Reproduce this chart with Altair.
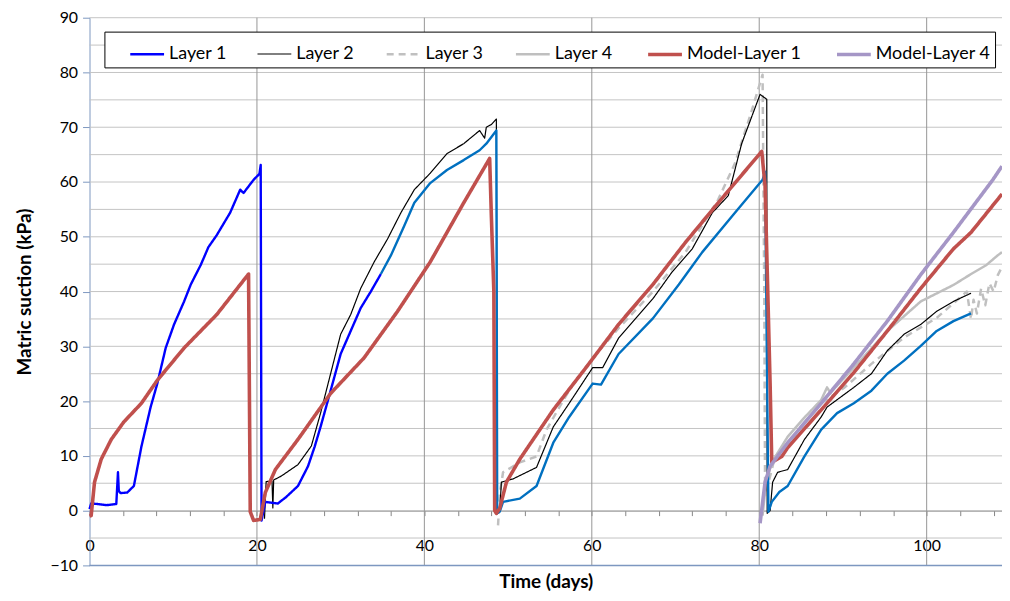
import altair as alt
import pandas as pd

# ---------------- data ----------------
L1_T = [0, 0.2, 1.0, 2.0, 3.2, 3.4, 3.5, 3.7, 4.5, 5.3, 6.2, 7.3, 8.1, 9.1, 10.1, 11.3, 12.1, 13.3,
        14.2, 15.2, 16.8, 18.0, 18.4, 19.6, 20.3, 20.45, 20.55, 21.0, 22.5, 23.5, 24.9, 26.1, 26.9,
        27.6, 28.8, 30.0, 31.2, 32.4, 33.6, 34.8]
L1_V = [0.3, 1.3, 1.2, 1.0, 1.2, 7.0, 3.6, 3.2, 3.3, 4.5, 11.7, 18.9, 23.2, 29.7, 34.0, 38.2, 41.3, 44.9,
        48.1, 50.3, 54.4, 58.6, 58.0, 60.4, 61.5, 63.1, -1.8, 1.6, 1.3, 2.5, 4.5, 8.1, 11.7,
        15.3, 21.9, 28.6, 32.8, 37.0, 40.0, 43.2]

# continuation of Layer 1 drawn in a lighter blue (not in legend)
L1B_T = [34.8, 36.0, 37.6, 38.8, 40.7, 42.7, 44.7, 46.6, 47.4, 48.6, 48.7, 49.0, 49.4, 51.4, 53.4, 55.4,
         57.3, 60.1, 61.1, 63.2, 67.3, 70.4, 73.2, 77.1, 80.4, 80.7, 80.9, 81.1, 81.5, 82.4, 83.4, 85.4,
         87.4, 89.3, 91.3, 93.4, 95.3, 97.3, 99.3, 101.2, 103.2, 105.3]
L1B_V = [43.2, 46.6, 52.0, 56.2, 59.8, 62.2, 64.0, 65.8, 67.0, 69.4, -0.5, -0.2, 1.6, 2.2, 4.5, 12.4,
         17.1, 23.2, 23.0, 28.6, 35.1, 41.3, 47.2, 54.4, 60.4, 61.9, 30.0, -0.2, 1.6, 3.4, 4.5, 9.9,
         14.8, 17.8, 19.6, 21.9, 25.0, 27.4, 30.1, 32.8, 34.6, 36.0]

L2_T = [20.9, 21.1, 21.8, 21.9, 22.0, 22.9, 24.9, 26.5, 27.6, 28.8, 30.0, 31.2, 32.4, 34.0, 35.6, 37.2,
        38.8, 40.7, 42.7, 44.7, 46.6, 47.2, 47.4, 48.0, 48.6, 48.7, 49.0, 49.2, 50.6, 53.4, 55.4, 57.3,
        60.1, 61.3, 63.2, 67.3, 69.6, 72.0, 74.4, 76.3, 77.9, 80.1, 80.9, 80.95, 81.3, 81.6, 82.2, 83.4,
        85.4, 87.4, 88.1, 91.3, 93.4, 95.3, 97.3, 99.3, 101.2, 103.2, 105.3]
L2_V = [-1.5, 5.3, 5.4, 0.5, 5.6, 6.3, 8.4, 11.8, 17.8, 25.0, 32.2, 35.8, 40.6, 45.4, 49.6, 54.4,
        58.6, 61.6, 65.2, 67.0, 69.4, 68.0, 70.0, 70.5, 71.5, -0.5, -0.2, 5.2, 5.8, 7.9, 15.3, 19.6,
        26.1, 26.1, 31.5, 38.7, 43.6, 47.8, 54.4, 57.5, 67.0, 76.0, 75.1, -0.5, 0.0, 5.2, 7.0, 7.5,
        13.0, 17.1, 18.9, 22.5, 25.0, 29.2, 32.2, 34.0, 36.4, 38.2, 39.7]

L3_T = [48.8, 49.0, 49.4, 51.4, 53.4, 54.6, 57.3, 60.1, 63.2, 67.3, 71.2, 75.1, 77.1, 79.1, 80.4, 80.6,
        80.7, 81.9, 83.4, 85.4, 87.4, 90.2, 93.4, 97.3, 101.2, 104.8, 105.3, 105.6, 106.0, 106.5, 107.0,
        107.5, 108.0, 108.5, 109.0]
L3_V = [-2.7, 3.0, 7.0, 8.8, 9.9, 14.8, 22.0, 27.9, 33.3, 40.0, 47.2, 56.8, 63.4, 73.0, 79.6, 40.0,
        2.7, 9.9, 11.7, 16.0, 19.6, 22.5, 26.8, 31.6, 35.2, 40.0, 35.0, 38.5, 36.0, 40.5, 37.5,
        41.5, 40.0, 43.0, 44.5]

L4_T = [80.4, 80.8, 81.5, 83.4, 85.4, 87.4, 88.1, 88.5, 91.3, 95.3, 99.3, 103.2, 105.2, 107.1, 108.4, 109.0]
L4_V = [-0.9, 5.0, 8.8, 13.5, 17.0, 20.2, 22.5, 21.5, 26.1, 32.8, 38.2, 41.2, 43.1, 44.8, 46.5, 47.2]

M1_T = [0, 0.2, 0.6, 1.4, 2.6, 4.1, 6.2, 8.1, 11.3, 15.2, 19.0, 19.2, 19.6, 20.4, 21.0, 22.2, 24.9, 28.8,
        32.8, 36.8, 40.7, 44.7, 47.8, 48.0, 48.3, 48.4, 48.6, 49.0, 49.8, 51.4, 55.4, 59.3, 63.2, 67.3,
        71.2, 75.1, 80.3, 80.7, 81.0, 81.3, 81.5, 82.7, 83.4, 87.4, 91.3, 95.3, 99.3, 103.2, 105.3, 109.0]
M1_V = [-1.0, -0.9, 5.2, 9.4, 13.0, 16.2, 19.6, 23.8, 29.7, 35.8, 43.2, -0.2, -1.8, -1.6, 3.3, 7.5, 13.0, 21.4,
        27.9, 36.4, 45.4, 56.2, 64.3, 53.9, 40.0, 0.0, -0.5, 0.4, 5.2, 9.4, 18.4, 26.1, 34.0, 41.3,
        49.0, 56.2, 65.6, 59.3, 41.2, 23.2, 8.8, 9.9, 11.5, 18.4, 25.2, 32.8, 40.6, 47.8, 50.8, 57.8]

M4_T = [80.1, 80.7, 81.3, 83.4, 87.4, 91.3, 95.3, 99.3, 103.2, 107.9, 109.0]
M4_V = [-2.3, 5.2, 8.1, 12.4, 19.6, 26.8, 34.6, 43.1, 50.8, 60.4, 62.9]

SERIES = ["Layer 1", "Layer 2", "Layer 3", "Layer 4", "Model-Layer 1", "Model-Layer 4"]
COLORS = ["#0000FF", "#000000", "#C0C0C0", "#BFBFBF", "#C0504D", "#A596C6"]
DASHES = [[1, 0], [1, 0], [7, 5], [1, 0], [1, 0], [1, 0]]
WIDTHS = [2.4, 1.2, 2.5, 2.5, 3.6, 3.6]
L1B_COLOR = "#0070C0"

X_TICKS = list(range(0, 109, 4))
Y_TICKS = list(range(-10, 91, 10))
H_GRID = list(range(-5, 91, 5))
V_GRID = [20, 40, 60, 80, 100]
BOTTOM = [-10]

FONT = "Lato"
PLOT_H = 551

# ---------------- build tables ----------------
def frame(name, ts, vs):
    return pd.DataFrame({"t": ts, "v": vs, "series": name, "i": range(len(ts))})

raw = {
    "Layer 1": (L1_T, L1_V), "Layer 2": (L2_T, L2_V), "Layer 3": (L3_T, L3_V),
    "Layer 4": (L4_T, L4_V), "Model-Layer 1": (M1_T, M1_V), "Model-Layer 4": (M4_T, M4_V),
}
frames = {k: frame(k, *v) for k, v in raw.items()}
l1b = frame("Layer 1b", L1B_T, L1B_V)

xscale = alt.Scale(domain=[0, 109], nice=False, zero=False)
yscale = alt.Scale(domain=[-10, 90], nice=False, zero=False)

xaxis = alt.Axis(
    values=X_TICKS, labelExpr="datum.value % 20 === 0 ? datum.label : ''",
    offset=-PLOT_H / 10, grid=False, domainColor="#868686", tickColor="#868686", tickSize=5,
    labelFlush=False, labelOverlap=False, labelPadding=22, labelFont=FONT, labelFontSize=16,
    labelColor="#000000", title="Time (days)", titleFont=FONT, titleFontSize=19,
    titleFontWeight="bold", titleColor="#000000", titlePadding=19,
)
yaxis = alt.Axis(
    values=Y_TICKS, grid=False, domainColor="#7D97C0", tickColor="#7D97C0", tickSize=7,
    labelPadding=5, labelFont=FONT, labelFontSize=16, labelColor="#000000",
    title="Matric suction (kPa)", titleFont=FONT, titleFontSize=19, titleFontWeight="bold",
    titleColor="#000000", titlePadding=16,
)

X = alt.X("t:Q", scale=xscale, axis=xaxis)
Y = alt.Y("v:Q", scale=yscale, axis=yaxis)

hgrid = alt.Chart(pd.DataFrame({"v": H_GRID})).mark_rule(color="#C4C4C4", strokeWidth=1).encode(y=Y)
vgrid = alt.Chart(pd.DataFrame({"t": V_GRID})).mark_rule(color="#969696", strokeWidth=1).encode(x=X)
bottom = alt.Chart(pd.DataFrame({"v": BOTTOM})).mark_rule(color="#7D97C0", strokeWidth=1.5).encode(y=Y)

legend = alt.Legend(
    title=" ", titleOrient="left", titlePadding=20, titleFontSize=8,
    orient="none", legendX=15, legendY=14, direction="horizontal", columns=6,
    symbolType="stroke", symbolSize=1156, labelFont=FONT, labelFontSize=18, labelColor="#000000",
    strokeColor="#000000", fillColor="#FFFFFF", padding=4, columnPadding=27, labelOffset=3,
    labelLimit=300,
)

enc = dict(
    x=X, y=Y, order=alt.Order("i:Q"),
    color=alt.Color("series:N", scale=alt.Scale(domain=SERIES, range=COLORS), legend=legend),
    strokeDash=alt.StrokeDash("series:N", scale=alt.Scale(domain=SERIES, range=DASHES), legend=legend),
    strokeWidth=alt.StrokeWidth("series:N", scale=alt.Scale(type="ordinal", domain=SERIES, range=WIDTHS),
                                legend=legend),
)

def line(name):
    return alt.Chart(frames[name]).mark_line(strokeJoin="round").encode(**enc)

l1b_line = alt.Chart(l1b).mark_line(color=L1B_COLOR, strokeWidth=2.4, strokeJoin="round").encode(
    x=X, y=Y, order=alt.Order("i:Q"))

chart = alt.layer(
    hgrid, vgrid, bottom,
    line("Layer 3"), line("Layer 4"), line("Layer 2"), line("Layer 1"), l1b_line,
    line("Model-Layer 1"), line("Model-Layer 4"),
).properties(
    width=918, height=PLOT_H,
    padding={"left": 82, "top": 8, "right": 0, "bottom": 26},
    autosize=alt.AutoSizeParams(type="none"),
    background="#FFFFFF",
).configure_view(stroke=None)

chart.save("out.html", embed_options={"renderer": "svg", "actions": False})
